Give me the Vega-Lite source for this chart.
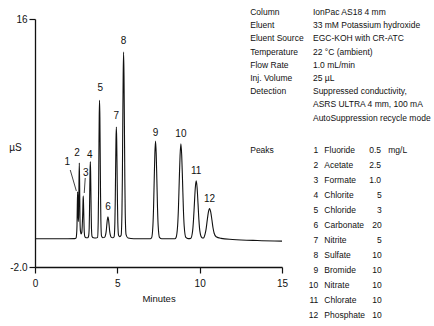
{
  "$schema": "https://vega.github.io/schema/vega-lite/v6.json",
  "width": 247,
  "height": 248,
  "autosize": {"type": "none"},
  "padding": {"left": 35, "top": 19, "right": 152, "bottom": 59},
  "background": "white",
  "config": {
    "view": {"stroke": null},
    "font": "Liberation Sans, Arial, sans-serif",
    "axis": {
      "grid": false,
      "domainColor": "#111",
      "domainWidth": 1.3,
      "tickColor": "#111",
      "tickWidth": 1.2,
      "tickSize": 6,
      "labelColor": "#111",
      "titleColor": "#111",
      "labelFont": "Liberation Sans, Arial, sans-serif",
      "titleFont": "Liberation Sans, Arial, sans-serif",
      "labelFontSize": 10,
      "titleFontSize": 9.5,
      "titleFontWeight": "normal"
    },
    "text": {"font": "Liberation Sans, Arial, sans-serif", "color": "#111"}
  },
  "datasets": {
    "trace": [
      {"t": 0, "v": 0.05}, {"t": 1.0, "v": 0.05}, {"t": 2.0, "v": 0.05}, {"t": 2.4, "v": 0.06}, {"t": 2.5, "v": 0.12},
      {"t": 2.52, "v": 0.3}, {"t": 2.55, "v": 1.0}, {"t": 2.57, "v": 2.5}, {"t": 2.59, "v": 3.45}, {"t": 2.61, "v": 2.5}, {"t": 2.63, "v": 1.3}, {"t": 2.65, "v": 1.75}, {"t": 2.67, "v": 4.05}, {"t": 2.69, "v": 5.55}, {"t": 2.71, "v": 4.05}, {"t": 2.73, "v": 1.6}, {"t": 2.76, "v": 0.6}, {"t": 2.8, "v": 0.4},
      {"t": 2.84, "v": 0.5}, {"t": 2.87, "v": 1.0}, {"t": 2.9, "v": 2.0}, {"t": 2.915, "v": 2.7}, {"t": 2.93, "v": 3.15}, {"t": 2.945, "v": 2.7}, {"t": 2.96, "v": 1.95}, {"t": 2.99, "v": 0.6}, {"t": 3.03, "v": 0.2}, {"t": 3.1, "v": 0.12},
      {"t": 3.2, "v": 0.12}, {"t": 3.255, "v": 0.25}, {"t": 3.29, "v": 0.8}, {"t": 3.3075, "v": 1.85}, {"t": 3.325, "v": 3.45}, {"t": 3.3425, "v": 4.95}, {"t": 3.36, "v": 5.65}, {"t": 3.3775, "v": 4.95}, {"t": 3.395, "v": 3.45}, {"t": 3.4125, "v": 1.85}, {"t": 3.43, "v": 0.8}, {"t": 3.465, "v": 0.22}, {"t": 3.55, "v": 0.12},
      {"t": 3.7, "v": 0.1}, {"t": 3.8, "v": 0.15}, {"t": 3.84, "v": 1.4}, {"t": 3.86, "v": 3.3}, {"t": 3.88, "v": 6.2}, {"t": 3.9, "v": 8.9}, {"t": 3.92, "v": 10.1}, {"t": 3.94, "v": 8.9}, {"t": 3.96, "v": 6.2}, {"t": 3.98, "v": 3.3}, {"t": 4.0, "v": 1.4}, {"t": 4.04, "v": 0.25}, {"t": 4.12, "v": 0.12},
      {"t": 4.22, "v": 0.15}, {"t": 4.29, "v": 0.35}, {"t": 4.325, "v": 0.6}, {"t": 4.36, "v": 1.05}, {"t": 4.395, "v": 1.45}, {"t": 4.43, "v": 1.65}, {"t": 4.465, "v": 1.45}, {"t": 4.5, "v": 1.05}, {"t": 4.535, "v": 0.6}, {"t": 4.57, "v": 0.35}, {"t": 4.64, "v": 0.15}, {"t": 4.72, "v": 0.12},
      {"t": 4.805, "v": 0.2}, {"t": 4.85, "v": 1.2}, {"t": 4.8725, "v": 2.7}, {"t": 4.895, "v": 5.0}, {"t": 4.9175, "v": 7.2}, {"t": 4.94, "v": 8.15}, {"t": 4.9625, "v": 7.2}, {"t": 4.985, "v": 5.0}, {"t": 5.0075, "v": 2.7}, {"t": 5.03, "v": 1.2}, {"t": 5.075, "v": 0.3}, {"t": 5.15, "v": 0.2},
      {"t": 5.23, "v": 0.3}, {"t": 5.28, "v": 1.9}, {"t": 5.305, "v": 4.4}, {"t": 5.33, "v": 8.3}, {"t": 5.355, "v": 11.9}, {"t": 5.38, "v": 13.6}, {"t": 5.405, "v": 11.9}, {"t": 5.43, "v": 8.3}, {"t": 5.455, "v": 4.4}, {"t": 5.48, "v": 1.9}, {"t": 5.53, "v": 0.35}, {"t": 5.65, "v": 0.1}, {"t": 6.0, "v": 0.05},
      {"t": 7.0, "v": 0.05}, {"t": 7.08, "v": 0.12}, {"t": 7.16, "v": 1.0}, {"t": 7.2, "v": 2.3}, {"t": 7.24, "v": 4.35}, {"t": 7.28, "v": 6.25}, {"t": 7.32, "v": 7.15}, {"t": 7.36, "v": 6.25}, {"t": 7.4, "v": 4.35}, {"t": 7.44, "v": 2.3}, {"t": 7.48, "v": 1.0}, {"t": 7.56, "v": 0.15}, {"t": 7.7, "v": 0.05},
      {"t": 8.5, "v": 0.05}, {"t": 8.56, "v": 0.12}, {"t": 8.66, "v": 0.98}, {"t": 8.71, "v": 2.25}, {"t": 8.76, "v": 4.25}, {"t": 8.81, "v": 6.1}, {"t": 8.86, "v": 6.95}, {"t": 8.91, "v": 6.1}, {"t": 8.96, "v": 4.25}, {"t": 9.01, "v": 2.25}, {"t": 9.06, "v": 0.98}, {"t": 9.16, "v": 0.15}, {"t": 9.3, "v": 0.06},
      {"t": 9.46, "v": 0.08}, {"t": 9.57, "v": 0.6}, {"t": 9.625, "v": 1.4}, {"t": 9.68, "v": 2.6}, {"t": 9.735, "v": 3.75}, {"t": 9.79, "v": 4.25}, {"t": 9.845, "v": 3.75}, {"t": 9.9, "v": 2.6}, {"t": 9.955, "v": 1.4}, {"t": 10.01, "v": 0.62}, {"t": 10.12, "v": 0.15}, {"t": 10.2, "v": 0.1},
      {"t": 10.25, "v": 0.12}, {"t": 10.32, "v": 0.35}, {"t": 10.39, "v": 0.75}, {"t": 10.46, "v": 1.4}, {"t": 10.53, "v": 1.98}, {"t": 10.6, "v": 2.25}, {"t": 10.67, "v": 2.0}, {"t": 10.74, "v": 1.45}, {"t": 10.81, "v": 0.85}, {"t": 10.88, "v": 0.45}, {"t": 11.0, "v": 0.2}, {"t": 11.3, "v": 0.08}, {"t": 12.0, "v": 0.0}, {"t": 13.5, "v": -0.08}, {"t": 15.0, "v": -0.12}
    ],
    "peakLabels": [
      {"t": 1.96, "v": 5.62, "n": "1"},
      {"t": 2.55, "v": 6.25, "n": "2"},
      {"t": 3.09, "v": 4.8, "n": "3"},
      {"t": 3.32, "v": 6.13, "n": "4"},
      {"t": 3.96, "v": 10.97, "n": "5"},
      {"t": 4.43, "v": 2.33, "n": "6"},
      {"t": 4.94, "v": 8.96, "n": "7"},
      {"t": 5.38, "v": 14.43, "n": "8"},
      {"t": 7.32, "v": 7.75, "n": "9"},
      {"t": 8.86, "v": 7.65, "n": "10"},
      {"t": 9.79, "v": 5.0, "n": "11"},
      {"t": 10.6, "v": 2.92, "n": "12"}
    ],
    "leaders": [
      {"t": 2.14, "v": 5.04, "t2": 2.51, "v2": 3.52},
      {"t": 3.05, "v": 4.46, "t2": 2.99, "v2": 3.37}
    ],
    "infoLeft": [
      {"t": 13.07, "v": 16.51, "s": "Column"},
      {"t": 13.07, "v": 15.55, "s": "Eluent"},
      {"t": 13.07, "v": 14.59, "s": "Eluent Source"},
      {"t": 13.07, "v": 13.63, "s": "Temperature"},
      {"t": 13.07, "v": 12.68, "s": "Flow Rate"},
      {"t": 13.07, "v": 11.72, "s": "Inj. Volume"},
      {"t": 13.07, "v": 10.76, "s": "Detection"},
      {"t": 16.88, "v": 16.51, "s": "IonPac AS18 4 mm"},
      {"t": 16.88, "v": 15.55, "s": "33 mM Potassium hydroxide"},
      {"t": 16.88, "v": 14.59, "s": "EGC-KOH with CR-ATC"},
      {"t": 16.88, "v": 13.63, "s": "22 °C (ambient)"},
      {"t": 16.88, "v": 12.68, "s": "1.0 mL/min"},
      {"t": 16.88, "v": 11.72, "s": "25 µL"},
      {"t": 16.88, "v": 10.76, "s": "Suppressed conductivity,"},
      {"t": 16.88, "v": 9.8, "s": "ASRS ULTRA 4 mm, 100 mA"},
      {"t": 16.88, "v": 8.84, "s": "AutoSuppression recycle mode"},
      {"t": 13.07, "v": 6.49, "s": "Peaks"},
      {"t": 17.57, "v": 6.49, "s": "Fluoride"},
      {"t": 17.57, "v": 5.4, "s": "Acetate"},
      {"t": 17.57, "v": 4.32, "s": "Formate"},
      {"t": 17.57, "v": 3.23, "s": "Chlorite"},
      {"t": 17.57, "v": 2.14, "s": "Chloride"},
      {"t": 17.57, "v": 1.05, "s": "Carbonate"},
      {"t": 17.57, "v": -0.04, "s": "Nitrite"},
      {"t": 17.57, "v": -1.13, "s": "Sulfate"},
      {"t": 17.57, "v": -2.21, "s": "Bromide"},
      {"t": 17.57, "v": -3.3, "s": "Nitrate"},
      {"t": 17.57, "v": -4.39, "s": "Chlorate"},
      {"t": 17.57, "v": -5.48, "s": "Phosphate"},
      {"t": 20.3, "v": 6.49, "s": "0.5"},
      {"t": 20.3, "v": 5.4, "s": "2.5"},
      {"t": 20.3, "v": 4.32, "s": "1.0"},
      {"t": 21.45, "v": 6.49, "s": "mg/L"}
    ],
    "infoRight": [
      {"t": 17.2, "v": 6.49, "s": "1"},
      {"t": 17.2, "v": 5.4, "s": "2"},
      {"t": 17.2, "v": 4.32, "s": "3"},
      {"t": 17.2, "v": 3.23, "s": "4"},
      {"t": 17.2, "v": 2.14, "s": "5"},
      {"t": 17.2, "v": 1.05, "s": "6"},
      {"t": 17.2, "v": -0.04, "s": "7"},
      {"t": 17.2, "v": -1.13, "s": "8"},
      {"t": 17.2, "v": -2.21, "s": "9"},
      {"t": 17.2, "v": -3.3, "s": "10"},
      {"t": 17.2, "v": -4.39, "s": "11"},
      {"t": 17.2, "v": -5.48, "s": "12"},
      {"t": 21.05, "v": 3.23, "s": "5"},
      {"t": 21.05, "v": 2.14, "s": "3"},
      {"t": 21.05, "v": 1.05, "s": "20"},
      {"t": 21.05, "v": -0.04, "s": "5"},
      {"t": 21.05, "v": -1.13, "s": "10"},
      {"t": 21.05, "v": -2.21, "s": "10"},
      {"t": 21.05, "v": -3.3, "s": "10"},
      {"t": 21.05, "v": -4.39, "s": "10"},
      {"t": 21.05, "v": -5.48, "s": "10"}
    ]
  },
  "layer": [
    {
      "data": {"name": "trace"},
      "mark": {"type": "line", "color": "#111", "strokeWidth": 1.1, "interpolate": "monotone"},
      "encoding": {
        "x": {"field": "t", "type": "quantitative", "scale": {"domain": [0, 15], "nice": false, "zero": false},
          "axis": {"values": [0, 5, 10, 15], "format": "d", "title": "Minutes", "labelPadding": 5, "titlePadding": 5, "labelFlush": false}},
        "y": {"field": "v", "type": "quantitative", "scale": {"domain": [-2, 16], "nice": false, "zero": false},
          "axis": {"values": [-2, 16], "labelExpr": "datum.value == 16 ? '16' : '-2.0'", "labelPadding": 2, "labelFlush": false,
            "title": "µS", "titleAngle": 0, "titleX": -20, "titleY": 128, "titleAlign": "center", "titleBaseline": "middle", "titleFontSize": 10}}
      }
    },
    {
      "data": {"name": "leaders"},
      "mark": {"type": "rule", "color": "#111", "strokeWidth": 0.8},
      "encoding": {
        "x": {"field": "t", "type": "quantitative"},
        "y": {"field": "v", "type": "quantitative"},
        "x2": {"field": "t2"},
        "y2": {"field": "v2"}
      }
    },
    {
      "data": {"name": "peakLabels"},
      "mark": {"type": "text", "fontSize": 10, "align": "center", "baseline": "middle"},
      "encoding": {
        "x": {"field": "t", "type": "quantitative"},
        "y": {"field": "v", "type": "quantitative"},
        "text": {"field": "n"}
      }
    },
    {
      "data": {"name": "infoLeft"},
      "mark": {"type": "text", "fontSize": 8.5, "align": "left", "baseline": "middle"},
      "encoding": {
        "x": {"field": "t", "type": "quantitative"},
        "y": {"field": "v", "type": "quantitative"},
        "text": {"field": "s"}
      }
    },
    {
      "data": {"name": "infoRight"},
      "mark": {"type": "text", "fontSize": 8.5, "align": "right", "baseline": "middle"},
      "encoding": {
        "x": {"field": "t", "type": "quantitative"},
        "y": {"field": "v", "type": "quantitative"},
        "text": {"field": "s"}
      }
    }
  ]
}
